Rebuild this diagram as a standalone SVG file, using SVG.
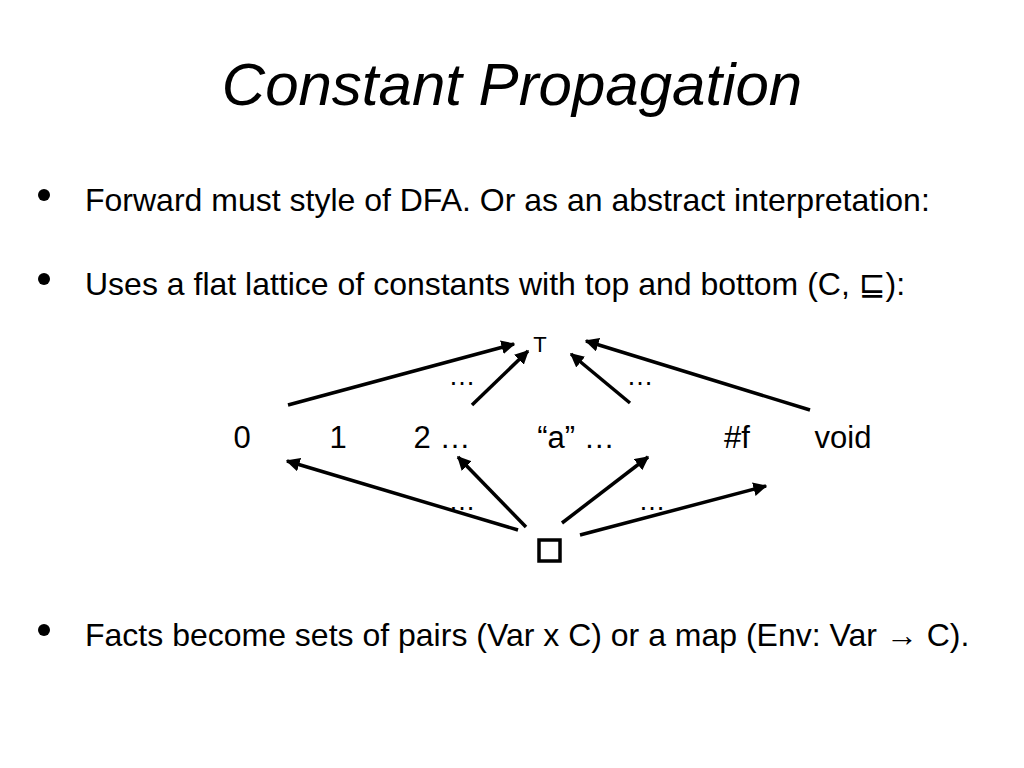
<svg xmlns="http://www.w3.org/2000/svg" width="1024" height="768" viewBox="0 0 1024 768">
<defs>
<style>
text{font-family:"Liberation Sans",Arial,sans-serif;fill:#000}
.title{font-size:60px;font-style:italic;text-anchor:middle}
.body{font-size:32px}
.lbl{font-size:31px;text-anchor:middle}
.dots{font-size:27px;text-anchor:middle}
.edge{stroke:#000;stroke-width:3.5;fill:none;marker-end:url(#ah)}
</style>
<marker id="ah" viewBox="0 0 10 10" refX="9" refY="5" markerWidth="4" markerHeight="4" orient="auto" markerUnits="strokeWidth">
<path d="M0,0 L10,5 L0,10 z" fill="#000"/>
</marker>
</defs>
<rect width="1024" height="768" fill="#fff"/>
<text class="title" x="512" y="105">Constant Propagation</text>
<g id="bullets">
<circle cx="44" cy="195" r="6"/>
<text class="body" x="85" y="211">Forward must style of DFA. Or as an abstract interpretation:</text>
<circle cx="44" cy="279" r="6"/>
<text class="body" x="85" y="295">Uses a flat lattice of constants with top and bottom (C, <tspan font-family="DejaVu Sans">⊑</tspan>):</text>
<circle cx="44" cy="630" r="6"/>
<text class="body" x="85" y="646">Facts become sets of pairs (Var x C) or a map (Env: Var → C).</text>
</g>
<g id="connectors">
<line class="edge" x1="288" y1="405" x2="514" y2="344"/>
<line class="edge" x1="472" y1="405" x2="528" y2="351"/>
<line class="edge" x1="630" y1="403" x2="571" y2="354"/>
<line class="edge" x1="810" y1="410" x2="586" y2="341"/>
<line class="edge" x1="526" y1="527" x2="458" y2="457"/>
<line class="edge" x1="562" y1="523" x2="648" y2="457"/>
<line class="edge" x1="518" y1="530" x2="287" y2="461"/>
<line class="edge" x1="580" y1="535" x2="766" y2="486"/>
</g>
<g id="top"><text x="540" y="352" font-size="22" text-anchor="middle">T</text></g>
<g id="dots-top-left"><text class="dots" x="462" y="385">…</text></g>
<g id="dots-top-right"><text class="dots" x="640" y="385">…</text></g>
<g id="n0"><text class="lbl" x="242" y="448">0</text></g>
<g id="n1"><text class="lbl" x="338" y="448">1</text></g>
<g id="n2"><text class="lbl" x="442" y="448">2 …</text></g>
<g id="na"><text class="lbl" x="576" y="448">“a” …</text></g>
<g id="nf"><text class="lbl" x="737" y="448">#f</text></g>
<g id="nvoid"><text class="lbl" x="843" y="448">void</text></g>
<g id="dots-bot-left"><text class="dots" x="462" y="510">…</text></g>
<g id="dots-bot-right"><text class="dots" x="652" y="510">…</text></g>
<g id="bottom"><rect x="539" y="540" width="21" height="21" fill="none" stroke="#000" stroke-width="3.5"/></g>
</svg>
